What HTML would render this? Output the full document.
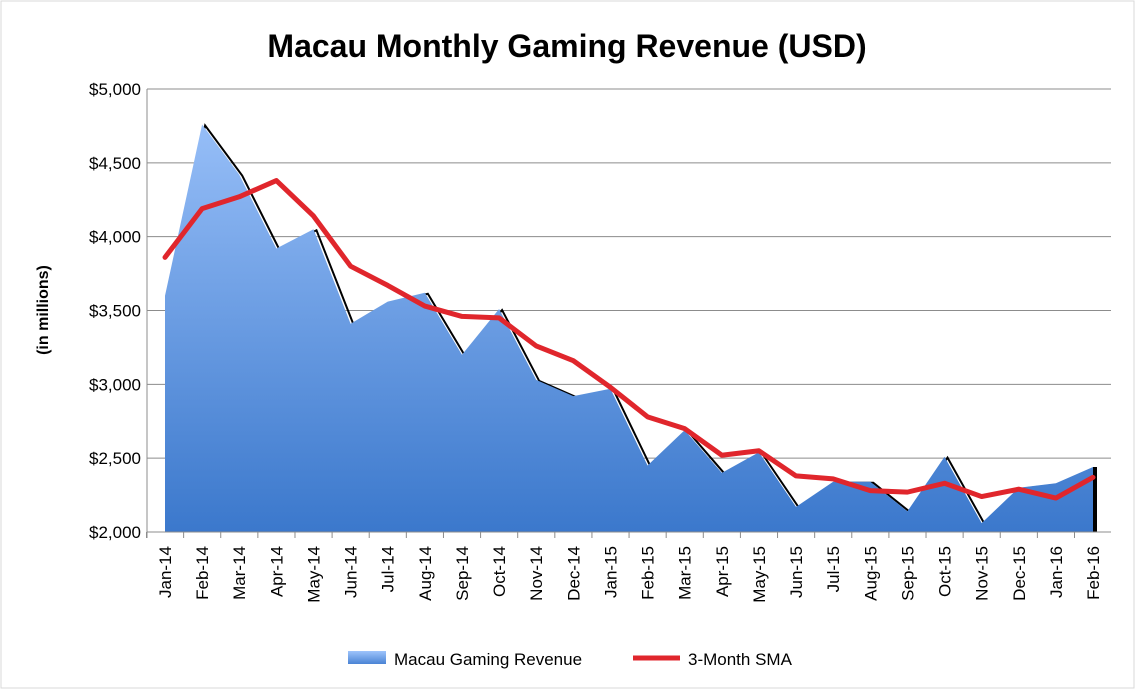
<!DOCTYPE html>
<html><head><meta charset="utf-8"><style>
body{margin:0;background:#fff;}
svg{display:block;font-family:"Liberation Sans",sans-serif;}
</style></head><body>
<svg id="chart" width="1136" height="690">
<defs>
<linearGradient id="lg" x1="0" y1="0" x2="0" y2="1"><stop offset="0" stop-color="#9ec4fb"/><stop offset="1" stop-color="#4a84d4"/></linearGradient>
</defs>
<rect x="1" y="1" width="1133" height="687" fill="#fff" stroke="#d9d9d9"/>
<text x="567" y="57" text-anchor="middle" font-size="32" font-weight="bold">Macau Monthly Gaming Revenue (USD)</text>
<text transform="translate(48,310) rotate(-90)" text-anchor="middle" font-size="16" font-weight="bold">(in millions)</text>
<g id="grid"></g><g id="plot"></g><g id="xl"></g>
<g>
<rect x="348" y="651" width="38" height="13" fill="url(#lg)"/>
<text x="394" y="665" font-size="17">Macau Gaming Revenue</text>
<line x1="633" y1="658" x2="680" y2="658" stroke="#e0262c" stroke-width="5"/>
<text x="688" y="665" font-size="17">3-Month SMA</text>
</g>
</svg>
<script>
const categories=["Jan-14","Feb-14","Mar-14","Apr-14","May-14","Jun-14","Jul-14","Aug-14","Sep-14","Oct-14","Nov-14","Dec-14","Jan-15","Feb-15","Mar-15","Apr-15","May-15","Jun-15","Jul-15","Aug-15","Sep-15","Oct-15","Nov-15","Dec-15","Jan-16","Feb-16"];
const revenue=[3600,4760,4420,3920,4050,3410,3560,3620,3200,3510,3030,2920,2970,2450,2690,2400,2540,2170,2340,2340,2140,2510,2060,2300,2330,2440];
const sma=[3860,4190,4270,4380,4140,3800,3670,3530,3460,3450,3260,3160,2980,2780,2700,2520,2550,2380,2360,2280,2270,2330,2240,2290,2230,2370];
const yTicks=[2000,2500,3000,3500,4000,4500,5000];
const yTickLabels=["$2,000","$2,500","$3,000","$3,500","$4,000","$4,500","$5,000"];
const NS="http://www.w3.org/2000/svg";
const L=147,R=1111,T=89,B=532,ymin=2000,ymax=5000;
const x=i=>165+i*(1093-165)/(categories.length-1);
const y=v=>B-(v-ymin)/(ymax-ymin)*(B-T);
function mk(tag,attrs,parent){const e=document.createElementNS(NS,tag);for(const k in attrs)e.setAttribute(k,attrs[k]);parent.appendChild(e);return e;}
const grid=document.getElementById('grid'),plot=document.getElementById('plot'),xl=document.getElementById('xl');
yTicks.forEach((t,i)=>{
 const g=mk('line',{x1:L,x2:R,y1:y(t),y2:y(t),stroke:'#8c8c8c','stroke-width':1},grid);
 
 
 const tx=mk('text',{x:L-6,y:y(t)+6,'text-anchor':'end','font-size':17},grid);
 tx.textContent=yTickLabels[i];
 
 
});
mk('line',{x1:L,x2:L,y1:T,y2:B+6,stroke:'#8c8c8c'},grid);
const gr=mk('linearGradient',{id:'lg2',x1:0,y1:T,x2:0,y2:B,gradientUnits:'userSpaceOnUse'},plot);
mk('stop',{offset:0,'stop-color':'#9ec4fb'},gr);mk('stop',{offset:1,'stop-color':'#3b78cc'},gr);
let sp=revenue.map((v,i)=>(x(i)+3)+','+(y(v)+1)).join(' ');
const sh=mk('polyline',{points:sp,fill:'none',stroke:'#000','stroke-width':2},plot);


const shv=mk('line',{x1:x(revenue.length-1)+2,x2:x(revenue.length-1)+2,y1:y(revenue[revenue.length-1]),y2:B,stroke:'#000','stroke-width':4},plot);


let ap='M'+x(0)+','+B+' '+revenue.map((v,i)=>'L'+x(i)+','+y(v)).join(' ')+' L'+x(revenue.length-1)+','+B+'Z';
const ar=mk('path',{d:ap,fill:'url(#lg2)'},plot);


const sl=mk('polyline',{points:sma.map((v,i)=>x(i)+','+y(v)).join(' '),fill:'none',stroke:'#e0262c','stroke-width':5,'stroke-linejoin':'round','stroke-linecap':'round'},plot);


mk('line',{x1:L,x2:R,y1:B,y2:B,stroke:'#8c8c8c'},plot);
categories.forEach((c,i)=>{
 mk('line',{x1:x(i)-18.5,x2:x(i)-18.5,y1:B,y2:B+6,stroke:'#8c8c8c'},xl);
 const t=mk('text',{transform:`translate(${x(i)+6},${B+14}) rotate(-90)`,'text-anchor':'end','font-size':17},xl);
 t.textContent=c;
 
 
});
</script>
</body></html>
